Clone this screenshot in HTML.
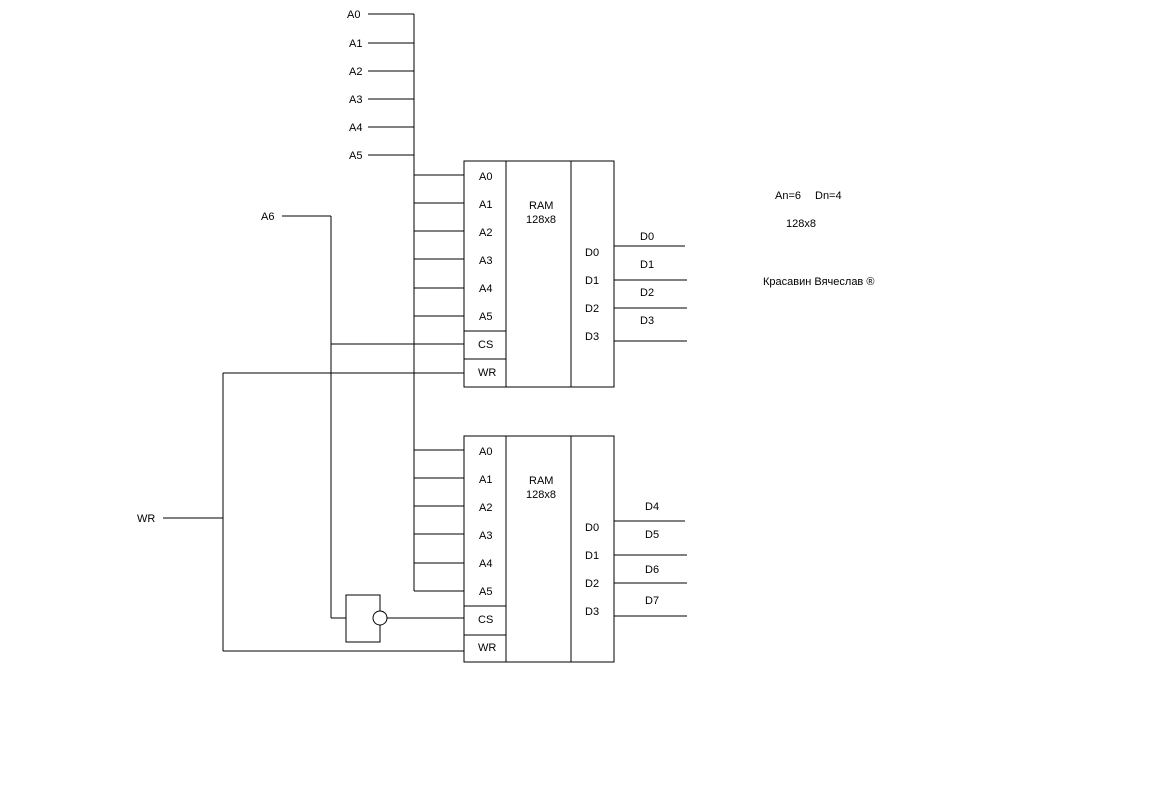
<!DOCTYPE html>
<html><head><meta charset="utf-8"><style>
html,body{margin:0;padding:0;background:#fff;}
svg{display:block;}
text{font-family:"Liberation Sans",Arial,sans-serif;font-size:11px;fill:#000;}
</style></head><body>
<svg width="1153" height="812" xmlns="http://www.w3.org/2000/svg">
<g stroke="#000" stroke-width="1" fill="none" shape-rendering="crispEdges">
<!-- bus -->
<line x1="414" y1="14" x2="414" y2="591"/>
<line x1="368" y1="14" x2="414" y2="14"/>
<line x1="368" y1="43" x2="414" y2="43"/>
<line x1="368" y1="71" x2="414" y2="71"/>
<line x1="368" y1="99" x2="414" y2="99"/>
<line x1="368" y1="127" x2="414" y2="127"/>
<line x1="368" y1="155" x2="414" y2="155"/>
<!-- A6 -->
<line x1="282" y1="216" x2="331" y2="216"/>
<line x1="331" y1="216" x2="331" y2="618"/>
<line x1="331" y1="618" x2="346" y2="618"/>
<line x1="331" y1="344" x2="464" y2="344"/>
<!-- WR -->
<line x1="163" y1="518" x2="223" y2="518"/>
<line x1="223" y1="373" x2="223" y2="651"/>
<line x1="223" y1="373" x2="464" y2="373"/>
<line x1="223" y1="651" x2="464" y2="651"/>
<!-- chip 1 -->
<rect x="464" y="161" width="150" height="226"/>
<line x1="506" y1="161" x2="506" y2="387"/>
<line x1="571" y1="161" x2="571" y2="387"/>
<line x1="464" y1="331" x2="506" y2="331"/>
<line x1="464" y1="359" x2="506" y2="359"/>
<line x1="414" y1="175" x2="464" y2="175"/>
<line x1="414" y1="203" x2="464" y2="203"/>
<line x1="414" y1="231" x2="464" y2="231"/>
<line x1="414" y1="259" x2="464" y2="259"/>
<line x1="414" y1="288" x2="464" y2="288"/>
<line x1="414" y1="316" x2="464" y2="316"/>
<line x1="614" y1="246" x2="685" y2="246"/>
<line x1="614" y1="280" x2="687" y2="280"/>
<line x1="614" y1="308" x2="687" y2="308"/>
<line x1="614" y1="341" x2="687" y2="341"/>
<!-- chip 2 -->
<rect x="464" y="436" width="150" height="226"/>
<line x1="506" y1="436" x2="506" y2="662"/>
<line x1="571" y1="436" x2="571" y2="662"/>
<line x1="464" y1="606" x2="506" y2="606"/>
<line x1="464" y1="635" x2="506" y2="635"/>
<line x1="414" y1="450" x2="464" y2="450"/>
<line x1="414" y1="478" x2="464" y2="478"/>
<line x1="414" y1="506" x2="464" y2="506"/>
<line x1="414" y1="534" x2="464" y2="534"/>
<line x1="414" y1="563" x2="464" y2="563"/>
<line x1="414" y1="591" x2="464" y2="591"/>
<line x1="614" y1="521" x2="685" y2="521"/>
<line x1="614" y1="555" x2="687" y2="555"/>
<line x1="614" y1="583" x2="687" y2="583"/>
<line x1="614" y1="616" x2="687" y2="616"/>
<!-- inverter -->
<rect x="346" y="595" width="34" height="47"/>
<line x1="387" y1="618" x2="464" y2="618"/>
</g>
<circle cx="380" cy="618" r="7" fill="#fff" stroke="#000"/>
<g>
<text x="347" y="18">A0</text><text x="349" y="47">A1</text><text x="349" y="75">A2</text>
<text x="349" y="103">A3</text><text x="349" y="131">A4</text><text x="349" y="159">A5</text>
<text x="261" y="220">A6</text><text x="137" y="522">WR</text>
<text x="479" y="180">A0</text><text x="479" y="208">A1</text><text x="479" y="236">A2</text>
<text x="479" y="264">A3</text><text x="479" y="292">A4</text><text x="479" y="320">A5</text>
<text x="478" y="348">CS</text><text x="478" y="376">WR</text>
<text x="529" y="209">RAM</text><text x="526" y="223">128x8</text>
<text x="585" y="256">D0</text><text x="585" y="284">D1</text><text x="585" y="312">D2</text><text x="585" y="340">D3</text>
<text x="640" y="240">D0</text><text x="640" y="268">D1</text><text x="640" y="296">D2</text><text x="640" y="324">D3</text>
<text x="479" y="455">A0</text><text x="479" y="483">A1</text><text x="479" y="511">A2</text>
<text x="479" y="539">A3</text><text x="479" y="567">A4</text><text x="479" y="595">A5</text>
<text x="478" y="623">CS</text><text x="478" y="651">WR</text>
<text x="529" y="484">RAM</text><text x="526" y="498">128x8</text>
<text x="585" y="531">D0</text><text x="585" y="559">D1</text><text x="585" y="587">D2</text><text x="585" y="615">D3</text>
<text x="645" y="510">D4</text><text x="645" y="538">D5</text><text x="645" y="573">D6</text><text x="645" y="604">D7</text>
<text x="775" y="199">An=6</text><text x="815" y="199">Dn=4</text>
<text x="786" y="227">128x8</text>
<text x="763" y="285">Красавин Вячеслав ®</text>
</g>
</svg>
</body></html>
